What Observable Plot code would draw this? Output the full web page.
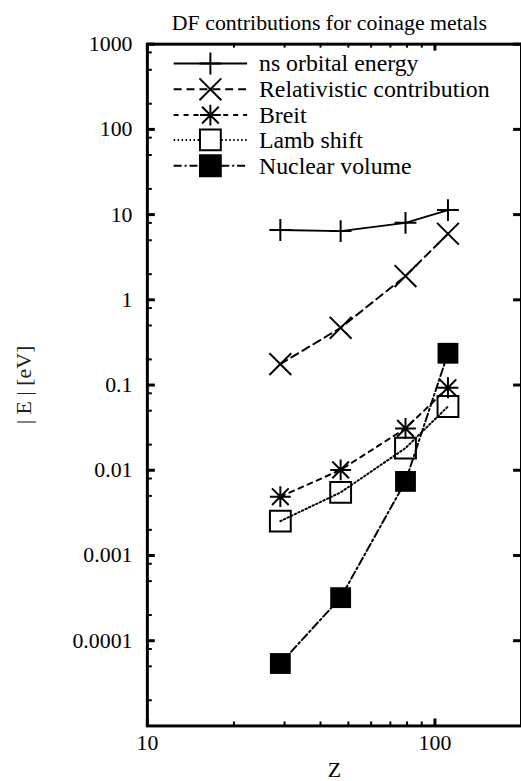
<!DOCTYPE html>
<html><head><meta charset="utf-8">
<script src="https://cdn.jsdelivr.net/npm/d3@7"></script>
<script src="https://cdn.jsdelivr.net/npm/@observablehq/plot@0.6"></script>
<style>
html,body{margin:0;padding:0;background:#fff;overflow:hidden;}
#wrap{position:relative;width:521px;height:781px;overflow:hidden;}
#wrap svg{display:block;}
#wrap svg text{font-family:"Liberation Serif","Tinos","DejaVu Serif","Times New Roman",serif !important;}
</style></head><body><div id="wrap"></div>
<script>
// ---- data ----
const Z = [29, 47, 79, 111];
const seriesNames = ["ns orbital energy", "Relativistic contribution", "Breit", "Lamb shift", "Nuclear volume"];
const orbital = [6.6, 6.4, 8.0, 11.3];
const relativistic = [0.176, 0.47, 1.9, 5.96];
const breit = [0.0049, 0.0101, 0.031, 0.093];
const lamb = [0.00253, 0.0055, 0.0182, 0.056];
const nuclear = [5.4e-5, 3.2e-4, 0.0074, 0.236];
const yTicks = [1000, 100, 10, 1, 0.1, 0.01, 0.001, 0.0001];
const yTickLabels = ["1000", "100", "10", "1", "0.1", "0.01", "0.001", "0.0001"];
const yMinor = [2e-5, 5e-5, 8e-5, 2e-4, 5e-4, 8e-4, 0.002, 0.005, 0.008, 0.02, 0.05, 0.08, 0.2, 0.5, 0.8, 2, 5, 8, 20, 50, 80, 200, 500, 800];
const xTicks = [10, 100];
const xTickLabels = ["10", "100"];
const xMinor = [20, 30, 40, 50, 60, 70, 80, 90];
const titleText = "DF contributions for coinage metals";
const xLabel = "Z";
const yLabel = "| E | [eV]";

// ---- symbols ----
const symPlus = {draw(c, s) { const r = Math.sqrt(s / Math.PI); c.moveTo(-r, 0); c.lineTo(r, 0); c.moveTo(0, -r); c.lineTo(0, r); }};
const symTimes = {draw(c, s) { const r = Math.sqrt(s / Math.PI); c.moveTo(-r, -r); c.lineTo(r, r); c.moveTo(-r, r); c.lineTo(r, -r); }};
const symStar = {draw(c, s) { const r = Math.sqrt(s / Math.PI); const q = r * 0.8;
  c.moveTo(-r, 0); c.lineTo(r, 0); c.moveTo(0, -r); c.lineTo(0, r);
  c.moveTo(-q, -q); c.lineTo(q, q); c.moveTo(-q, q); c.lineTo(q, -q); }};
const symSquare = {draw(c, s) { const r = Math.sqrt(s / Math.PI); c.rect(-r, -r, 2 * r, 2 * r); }};

const seriesValues = [orbital, relativistic, breit, lamb, nuclear];
const styles = [
  {symbol: symPlus, r: 11, fill: "none", dash: null},
  {symbol: symTimes, r: 11, fill: "none", dash: "8,5"},
  {symbol: symStar, r: 10.5, fill: "none", dash: "5,5"},
  {symbol: symSquare, r: 10.5, fill: "none", dash: "1.5,2.5"},
  {symbol: symSquare, r: 10.5, fill: "black", dash: "8,3,2,3"}
];

// ---- layout ----
const W = 525, H = 781, mL = 148, mR = 0, mT = 44, mB = 50;
const innerW = W - mL - mR, innerH = H - mT - mB;
const FONT = "Liberation Serif, Tinos, DejaVu Serif, Times New Roman, serif";

const marks = [];
seriesValues.forEach((vals, i) => {
  const data = Z.map((z, j) => ({Z: z, E: vals[j]}));
  const st = styles[i];
  marks.push(Plot.line(data, {x: "Z", y: "E", stroke: "black", strokeWidth: 2, strokeDasharray: st.dash}));
  marks.push(Plot.dot(data, {x: "Z", y: "E", symbol: st.symbol, r: st.r, fill: st.fill,
    stroke: st.fill === "none" ? "black" : "none", strokeWidth: 2}));
});

const plot = Plot.plot({
  width: W, height: H,
  marginLeft: mL, marginRight: mR, marginTop: mT, marginBottom: mB,
  style: "background: white; font-family: 'Liberation Serif', serif; font-size: 22px; color: black; overflow: visible;",
  x: {type: "log", domain: [10, 200]},
  y: {type: "log", domain: [1e-5, 1000]},
  marks: [
    Plot.axisY(yTicks, {tickSize: 0, tickPadding: 15, tickFormat: d => yTickLabels[yTicks.indexOf(d)], label: null, fontSize: 22, fontFamily: FONT}),
    Plot.axisX(xTicks, {tickSize: 0, tickPadding: 9, tickFormat: d => xTickLabels[xTicks.indexOf(d)], label: null, fontSize: 22, fontFamily: FONT}),
    Plot.tickY(yTicks, {y: d => d, insetRight: innerW - 8, strokeWidth: 3}),
    Plot.tickY(yMinor, {y: d => d, insetRight: innerW - 5, strokeWidth: 2}),
    Plot.tickY(yTicks, {y: d => d, insetLeft: innerW - 8, strokeWidth: 3}),
    Plot.tickX(xTicks, {x: d => d, insetTop: innerH - 7, strokeWidth: 3}),
    Plot.tickX(xMinor, {x: d => d, insetTop: innerH - 4, strokeWidth: 2}),
    Plot.tickX(xTicks, {x: d => d, insetBottom: innerH - 7, strokeWidth: 3}),
    Plot.tickX(xMinor, {x: d => d, insetBottom: innerH - 4, strokeWidth: 2}),
    Plot.frame({strokeWidth: 3}),
    ...marks,
    Plot.text([yLabel], {frameAnchor: "left", rotate: -90, dx: -124, lineAnchor: "middle", textAnchor: "middle", fontSize: 22, fontFamily: FONT, fill: "#222"}),
    Plot.text([xLabel], {frameAnchor: "bottom", dy: 44, lineAnchor: "middle", textAnchor: "middle", fontSize: 22, fontFamily: FONT}),
    Plot.text([titleText], {frameAnchor: "top", dx: -5, dy: -21, lineAnchor: "middle", textAnchor: "middle", fontSize: 22, fontFamily: FONT})
  ]
});

document.getElementById("wrap").appendChild(plot);

// ---- legend (inside plot area, top-left) ----
const svg = d3.select(plot);
const lg = svg.append("g").attr("font-family", FONT).attr("font-size", 24).attr("text-anchor", "start");
const rowY = [64, 90, 116, 141, 167];
seriesNames.forEach((name, i) => {
  const y = rowY[i], st = styles[i];
  lg.append("line").attr("x1", 175).attr("x2", 249).attr("y1", y).attr("y2", y)
    .attr("stroke", "black").attr("stroke-width", 2).attr("stroke-dasharray", st.dash);
  const p = d3.path();
  st.symbol.draw(p, st.r * st.r * Math.PI);
  lg.append("path").attr("d", p.toString()).attr("transform", `translate(212,${y})`)
    .attr("fill", st.fill === "none" ? "white" : "black").attr("stroke", "black").attr("stroke-width", 2);
  lg.append("text").attr("x", 261).attr("y", y + 8).attr("text-anchor", "start").attr("font-size", 24).text(name);
});
</script></body></html>
